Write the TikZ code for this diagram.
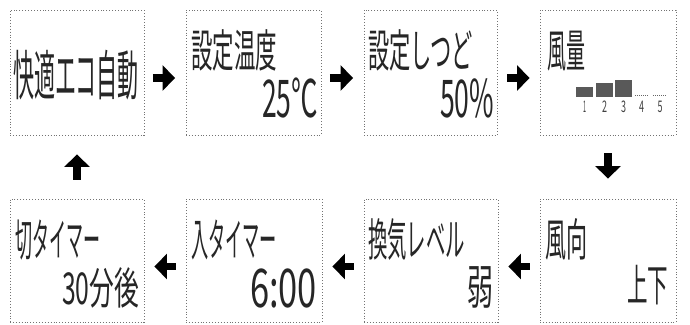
\documentclass[tikz,border=0pt]{standalone}
\usepackage{fontspec}
\newfontfamily\jp{Noto Sans CJK JP}
\usetikzlibrary{arrows.meta}
\tikzset{
  panel/.style={draw=black!55, dotted, line width=0.9pt, inner sep=0pt, rectangle},
  lbl/.style={anchor=north west, inner sep=0pt, outer sep=0pt, text=black!85},
  digit/.style={anchor=north, inner sep=0pt, outer sep=0pt, text=black!75},
  blockarrow/.style={line width=7.5pt, -{Triangle[width=25pt,length=12.5pt]}},
  barfill/.style={fill=black!65, draw=none},
}
% kanji-line ink box: top 0.84em, bottom -0.07em ; digit-line ink box: top 0.74em, bottom 0
\newcommand{\fitk}[3]{\resizebox*{#1pt}{#2pt}{\fontsize{10pt}{10pt}\jp\raisebox{0pt}[8.4pt][0.7pt]{#3}}}
\newcommand{\fitd}[3]{\resizebox*{#1pt}{#2pt}{\fontsize{10pt}{10pt}\jp\raisebox{0pt}[7.4pt][0.1pt]{#3}}}
\begin{document}
\begin{tikzpicture}[x=1pt,y=-1pt]
  \path[use as bounding box, fill=white] (0,0) rectangle (690,324);
  % panels
  \node[panel, minimum width=134pt, minimum height=125pt] (b1) at (77,72.5) {};
  \node[panel, minimum width=135pt, minimum height=125pt] (b2) at (253.5,72.5) {};
  \node[panel, minimum width=133pt, minimum height=125pt] (b3) at (430.5,72.5) {};
  \node[panel, minimum width=136pt, minimum height=125pt] (b4) at (608,72.5) {};
  \node[panel, minimum width=136pt, minimum height=123pt] (b5) at (608,260.5) {};
  \node[panel, minimum width=134pt, minimum height=123pt] (b6) at (431,260.5) {};
  \node[panel, minimum width=136pt, minimum height=123pt] (b7) at (254,260.5) {};
  \node[panel, minimum width=134pt, minimum height=123pt] (b8) at (77,260.5) {};
  % texts
  \node[lbl] (t1) at (13,50) {\fitk{126}{49}{快適エコ自動}};
  \node[lbl] (t2) at (191,30) {\fitk{86}{41}{設定温度}};
  \node[lbl] (t3) at (262,79) {\fitd{56}{39}{25℃}};
  \node[lbl] (t4) at (368,30) {\fitk{105}{41}{設定しつど}};
  \node[lbl] (t5) at (440,79) {\fitd{54}{39}{50\%}};
  \node[lbl] (t6) at (547,30) {\fitk{38}{41}{風量}};
  \node[lbl] (t7) at (545,219) {\fitk{42}{41}{風向}};
  \node[lbl] (t8) at (627,265) {\fitk{41}{40}{上下}};
  \node[lbl] (t9) at (368,219) {\fitk{97}{41}{換気レベル}};
  \node[lbl] (t10) at (467,265) {\fitk{26}{43}{弱}};
  \node[lbl] (t11) at (191,219) {\fitk{86}{41}{入タイマー}};
  \node[lbl] (t12) at (250,268) {\fitd{67}{40}{6:00}};
  \node[lbl] (t13) at (15,219) {\fitk{85}{41}{切タイマー}};
  \node[lbl] (t14) at (62,268) {\fitk{77}{40}{30分後}};
  % fan level bars
  \fill[barfill] (576,87) rectangle (593,97);
  \fill[barfill] (596,83) rectangle (613,97);
  \fill[barfill] (615,80) rectangle (632,97);
  \draw[black!60, line width=1pt, densely dotted] (635,95.5) -- (648,95.5);
  \draw[black!60, line width=1pt, densely dotted] (653,95.5) -- (667,95.5);
  \node[digit] (d1) at (584.5,101) {\fitd{3}{12}{1}};
  \node[digit] (d2) at (604.5,101) {\fitd{5}{12}{2}};
  \node[digit] (d3) at (623.5,101) {\fitd{5}{12}{3}};
  \node[digit] (d4) at (641.5,101) {\fitd{5}{12}{4}};
  \node[digit] (d5) at (660,101) {\fitd{5}{12}{5}};
  % arrows
  \draw[blockarrow, shorten <=8.5pt, shorten >=10.5pt] ([yshift=-5.5pt]b1.east) -- ([yshift=-5.5pt]b2.west);
  \draw[blockarrow, shorten <=8.5pt, shorten >=10.5pt] ([yshift=-5.5pt]b2.east) -- ([yshift=-5.5pt]b3.west);
  \draw[blockarrow, shorten <=10pt, shorten >=10pt] ([yshift=-5.5pt]b3.east) -- ([yshift=-5.5pt]b4.west);
  \draw[blockarrow, shorten <=18pt, shorten >=20pt] (b4.south) -- (b5.north);
  \draw[blockarrow, shorten <=10pt, shorten >=10pt] ([yshift=-6pt]b5.west) -- ([yshift=-6pt]b6.east);
  \draw[blockarrow, shorten <=10pt, shorten >=10pt] ([yshift=-6pt]b6.west) -- ([yshift=-6pt]b7.east);
  \draw[blockarrow, shorten <=10pt, shorten >=10pt] ([yshift=-6pt]b7.west) -- ([yshift=-6pt]b8.east);
  \draw[blockarrow, shorten <=19pt, shorten >=19pt] (b8.north) -- (b1.south);
\end{tikzpicture}
\end{document}
